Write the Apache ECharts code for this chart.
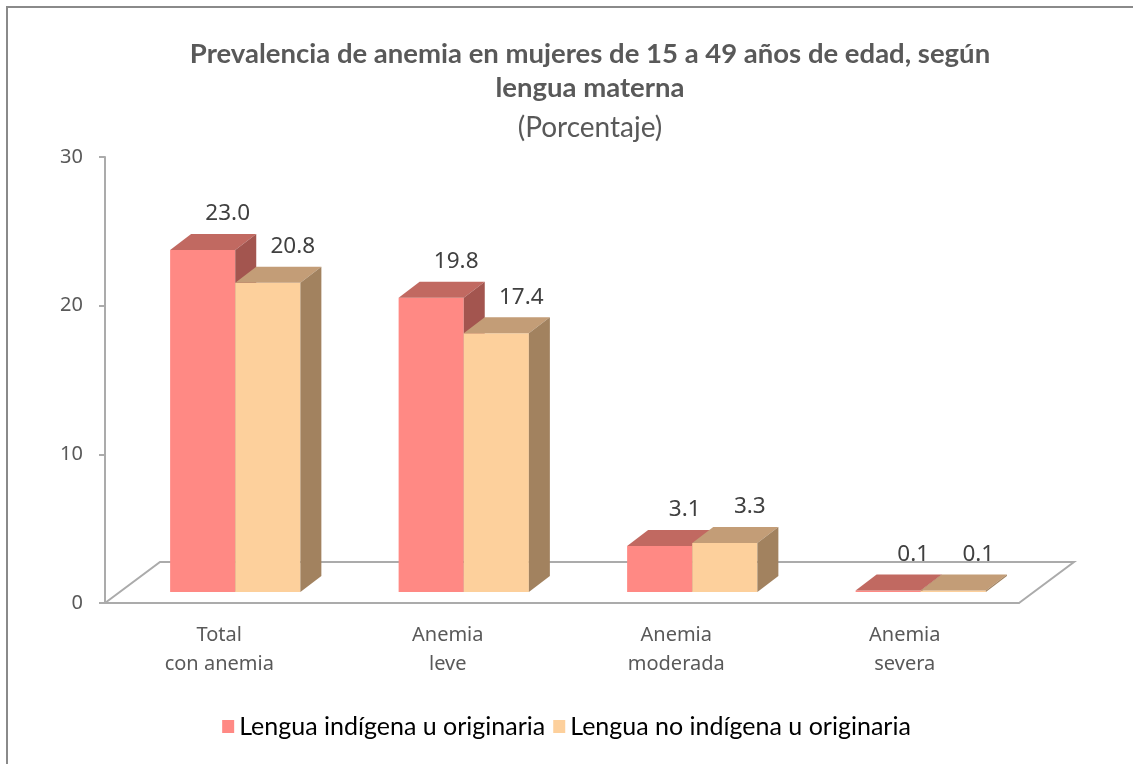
<!DOCTYPE html>
<html>
<head>
<meta charset="utf-8">
<script src="https://cdn.jsdelivr.net/npm/echarts@6/dist/echarts.min.js"></script>
<style>
  html, body { margin: 0; padding: 0; background: #fff; }
  #chart { width: 1133px; height: 764px; }
</style>
</head>
<body>
<div id="chart"></div>
<script>
// datos del gráfico
const categorias = ['Total\ncon anemia', 'Anemia\nleve', 'Anemia\nmoderada', 'Anemia\nsevera'];
const indigena = [23.0, 19.8, 3.1, 0.1];
const noIndigena = [20.8, 17.4, 3.3, 0.1];
const nombresSeries = ['Lengua indígena u originaria', 'Lengua no indígena u originaria'];
const yTicks = [0, 10, 20, 30];

// colores de las caras (frente, arriba, lado)
const caras = [
    { front: '#FF8984', top: '#C16961', side: '#A3554F' },
    { front: '#FDD09C', top: '#C39D77', side: '#A2825F' }
];

const DX = 21, DY = -16;   // profundidad 3D
const FLOOR_DX = 55, FLOOR_DY = -41;

function barRender(sIdx) {
    return function (params, api) {
        const i = api.value(0);
        const v = api.value(1);
        const base = api.coord([i, 0]);
        const top = api.coord([i, v]);
        const band = api.size([1, 0])[0];
        const w = band * 0.285;
        const shift = band * 0.07;
        const lift = 11;
        const x0 = base[0] + shift - w + sIdx * w;
        const x1 = x0 + w;
        const yb = base[1] - lift;
        const yt = top[1] - lift;
        const c = caras[sIdx];
        return {
            type: 'group',
            children: [
                { type: 'rect', shape: { x: x0, y: yt, width: w, height: yb - yt }, style: { fill: c.front } },
                { type: 'polygon', shape: { points: [[x0, yt], [x1, yt], [x1 + DX, yt + DY], [x0 + DX, yt + DY]] }, style: { fill: c.top } },
                { type: 'polygon', shape: { points: [[x1, yt], [x1 + DX, yt + DY], [x1 + DX, yb + DY], [x1, yb]] }, style: { fill: c.side } },
                {
                    type: 'text',
                    x: (x0 + x1) / 2 + 25, y: yt - 36,
                    style: {
                        text: v.toFixed(1), fill: '#404040',
                        font: '22.5px "Noto Sans"', align: 'center', verticalAlign: 'middle'
                    }
                }
            ]
        };
    };
}

function floorRender(params, api) {
    const band = api.size([1, 0])[0];
    const l = api.coord([0, 0]);
    const r = api.coord([categorias.length - 1, 0]);
    const L = l[0] - band / 2, R = r[0] + band / 2, y0 = l[1];
    return {
        type: 'polyline',
        shape: { points: [[L, y0], [L + FLOOR_DX, y0 + FLOOR_DY], [R + FLOOR_DX, y0 + FLOOR_DY], [R, y0]] },
        style: { stroke: '#ABABAB', lineWidth: 2, fill: null }
    };
}

const chart = echarts.init(document.getElementById('chart'));
chart.setOption({
    backgroundColor: '#fff',
    animation: false,
    title: [
        {
            text: 'Prevalencia de anemia en mujeres de 15 a 49 años de edad, según\nlengua materna',
            left: 585, top: 32, textAlign: 'center',
            textStyle: { fontFamily: 'Lato', fontWeight: 'bold', fontSize: 27.5, lineHeight: 34, color: '#595959' }
        },
        {
            text: '(Porcentaje)',
            left: 585, top: 106, textAlign: 'center',
            textStyle: { fontFamily: 'Lato', fontWeight: 'normal', fontSize: 28, lineHeight: 34, color: '#595959' }
        }
    ],
    legend: {
        data: nombresSeries,
        left: 'center', top: 709,
        icon: 'rect', itemWidth: 12, itemHeight: 13, itemGap: 8,
        textStyle: { fontFamily: 'Lato', fontSize: 25, color: '#000' }
    },
    graphic: [
        { type: 'polyline', shape: { points: [[7, 764], [7, 7], [1133, 7]] }, style: { stroke: '#8A8A8A', lineWidth: 2, fill: null } }
    ],
    grid: { left: 105, right: 114, top: 157, bottom: 161 },
    xAxis: {
        type: 'category',
        data: categorias,
        axisLine: { lineStyle: { color: '#ABABAB', width: 2 } },
        axisTick: { show: false },
        axisLabel: { fontFamily: 'Noto Sans', fontSize: 20, lineHeight: 29, color: '#595959', margin: 18 }
    },
    yAxis: {
        type: 'value',
        min: yTicks[0], max: yTicks[yTicks.length - 1], interval: 10,
        axisLine: { show: true, lineStyle: { color: '#ABABAB', width: 2 } },
        axisTick: { show: true, length: 6, lineStyle: { color: '#ABABAB', width: 2 } },
        splitLine: { show: false },
        axisLabel: { fontFamily: 'Noto Sans', fontSize: 20, color: '#595959', margin: 22 }
    },
    series: [
        {
            type: 'custom', name: 'piso', renderItem: floorRender,
            data: [[0, 0]], encode: { x: 0, y: 1 }, silent: true, z: 1
        },
        {
            type: 'custom', name: nombresSeries[0], renderItem: barRender(0),
            itemStyle: { color: caras[0].front },
            data: indigena.map((v, i) => [i, v]), encode: { x: 0, y: 1 }, z: 2
        },
        {
            type: 'custom', name: nombresSeries[1], renderItem: barRender(1),
            itemStyle: { color: caras[1].front },
            data: noIndigena.map((v, i) => [i, v]), encode: { x: 0, y: 1 }, z: 3
        }
    ]
});
</script>
</body>
</html>
